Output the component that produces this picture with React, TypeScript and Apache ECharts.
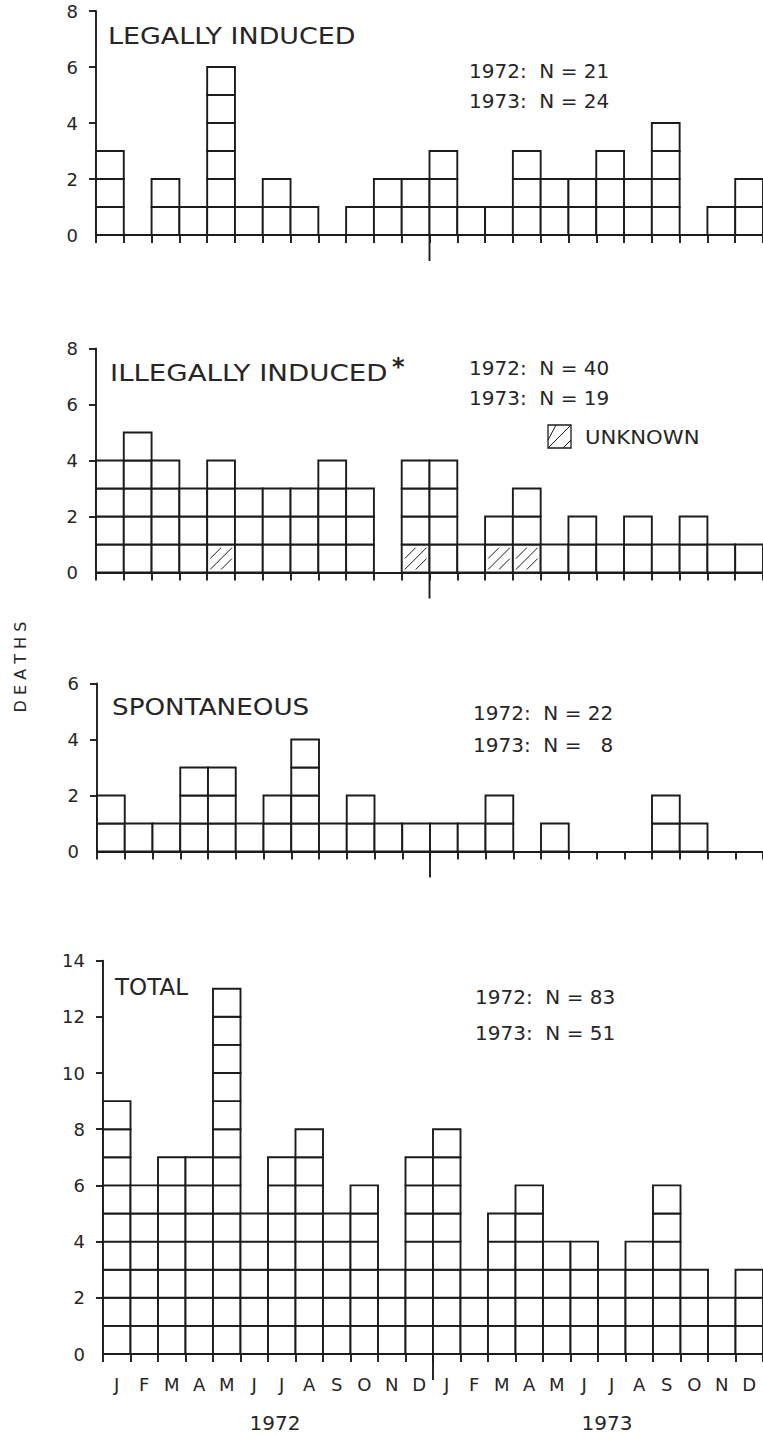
import React, { useEffect, useRef } from "react";
import * as echarts from "echarts";

const monthLetters = ["J", "F", "M", "A", "M", "J", "J", "A", "S", "O", "N", "D"];
const categories = [...monthLetters, ...monthLetters];

const legal1972 = [3, 0, 2, 1, 6, 1, 2, 1, 0, 1, 2, 2];
const legal1973 = [3, 1, 1, 3, 2, 2, 3, 2, 4, 0, 1, 2];
const illegal1972 = [4, 5, 4, 3, 4, 3, 3, 3, 4, 3, 0, 4];
const illegal1973 = [4, 1, 2, 3, 1, 2, 1, 2, 1, 2, 1, 1];
const unknown1972 = [0, 0, 0, 0, 1, 0, 0, 0, 0, 0, 0, 1];
const unknown1973 = [0, 0, 1, 1, 0, 0, 0, 0, 0, 0, 0, 0];
const spont1972 = [2, 1, 1, 3, 3, 1, 2, 4, 1, 2, 1, 1];
const spont1973 = [1, 1, 2, 0, 1, 0, 0, 0, 2, 1, 0, 0];
const total1972 = [9, 6, 7, 7, 13, 5, 7, 8, 5, 6, 3, 7];
const total1973 = [8, 3, 5, 6, 4, 4, 3, 4, 6, 3, 2, 3];

const panelTitles = ["LEGALLY INDUCED", "ILLEGALLY INDUCED", "SPONTANEOUS", "TOTAL"];
const panelN1972 = ["21", "40", "22", "83"];
const panelN1973 = ["24", "19", "  8", "51"];
const panelMax = [8, 8, 6, 14];
const yearLabels = ["1972", "1973"];

const INK = "#1c1c1c";
const TEXT = "#262626";
const FONT = "DejaVu Sans";

// layout (pixels)
const grids = [
  { left: 96, top: 11, width: 667, height: 224 },
  { left: 96, top: 348.5, width: 667, height: 224 },
  { left: 97, top: 683.5, width: 667, height: 168 },
  { left: 103, top: 960.6, width: 662, height: 393.4 },
];

function boxesItem(params: any, api: any) {
  const idx = api.value(0);
  const count = api.value(1);
  const unk = api.value(2);
  const w = api.size([1, 0])[0];
  const cx = api.coord([idx, 0])[0];
  const base = api.coord([idx, 0])[1];
  const x = cx - w / 2;
  const children: any[] = [];
  for (let k = 0; k < count; k++) {
    const yTop = api.coord([idx, k + 1])[1];
    const yBot = api.coord([idx, k])[1];
    const h = yBot - yTop;
    children.push({
      type: "rect",
      shape: { x, y: yTop, width: w, height: h },
      style: { fill: "#ffffff", stroke: INK, lineWidth: 1.9 },
    });
    if (k < unk) {
      const ins = 3;
      const s = w - 2 * ins;
      const x0 = x + ins;
      const y0 = yBot - ins;
      const offs = [-0.5, 0, 0.5];
      offs.forEach((o) => {
        let x1, y1, x2, y2;
        if (o <= 0) {
          const b = -o * s;
          x1 = x0; y1 = y0 - b; x2 = x0 + (s - b); y2 = y0 - s;
        } else {
          const a = o * s;
          x1 = x0 + a; y1 = y0; x2 = x0 + s; y2 = y0 - (s - a);
        }
        children.push({
          type: "line",
          shape: { x1, y1, x2, y2 },
          style: { stroke: INK, lineWidth: 1 },
        });
      });
    }
  }
  if (idx === 11) {
    children.push({
      type: "line",
      shape: { x1: x + w, y1: base, x2: x + w, y2: base + 26 },
      style: { stroke: INK, lineWidth: 1.9 },
    });
  }
  return { type: "group", children };
}

export default function App() {
  const ref = useRef<HTMLDivElement>(null);
  useEffect(() => {
    if (!ref.current) return;
    const chart = echarts.init(ref.current, undefined, { renderer: "svg" });

    const panelData = [
      [...legal1972, ...legal1973].map((v, i) => [i, v, 0]),
      [...illegal1972, ...illegal1973].map((v, i) => [
        i,
        v,
        [...unknown1972, ...unknown1973][i],
      ]),
      [...spont1972, ...spont1973].map((v, i) => [i, v, 0]),
      [...total1972, ...total1973].map((v, i) => [i, v, 0]),
    ];

    const xAxes = grids.map((g, p) => ({
      type: "category",
      gridIndex: p,
      data: categories,
      boundaryGap: true,
      axisLine: { show: true, lineStyle: { color: INK, width: 1.9 } },
      axisTick: {
        show: true,
        length: 8,
        interval: 0,
        lineStyle: { color: INK, width: 1.9 },
      },
      axisLabel: {
        show: p === 3,
        interval: 0,
        color: TEXT,
        fontFamily: FONT,
        fontSize: 18,
        margin: 21,
      },
      splitLine: { show: false },
    }));

    const yAxes = grids.map((g, p) => {
      const ticks: number[] = [];
      for (let v = 2; v <= panelMax[p]; v += 2) ticks.push(v);
      return {
        type: "value",
        gridIndex: p,
        min: 0,
        max: panelMax[p],
        interval: 2,
        axisLine: { show: true, lineStyle: { color: INK, width: 1.9 } },
        axisTick: {
          show: true,
          length: 7,
          customValues: ticks,
          lineStyle: { color: INK, width: 1.9 },
        },
        axisLabel: {
          color: TEXT,
          fontFamily: FONT,
          fontSize: 18,
          margin: 18,
        },
        splitLine: { show: false },
      };
    });

    const series = panelData.map((d, p) => ({
      type: "custom",
      xAxisIndex: p,
      yAxisIndex: p,
      clip: false,
      renderItem: boxesItem,
      encode: { x: 0, y: 1 },
      data: d,
      silent: true,
    }));

    const txt = (
      x: number,
      y: number,
      text: string,
      size: number,
      scaleX = 1,
      extra: any = {}
    ) => ({
      type: "text",
      x,
      y,
      scaleX,
      silent: true,
      style: {
        text,
        fill: TEXT,
        font: `${size}px "${FONT}"`,
        textVerticalAlign: "middle",
        ...extra,
      },
    });

    const titlePos = [
      [108, 36],
      [110, 373],
      [112, 707],
      [115, 987],
    ];
    const titleScale = [1.17, 1.2, 1.14, 1.0];
    const nPos = [
      [469, 71, 101],
      [469, 368, 398],
      [473, 713, 745],
      [475, 997, 1033],
    ];

    const graphics: any[] = [];
    panelTitles.forEach((t, p) => {
      graphics.push(txt(titlePos[p][0], titlePos[p][1], t, 23, titleScale[p]));
      graphics.push(
        txt(nPos[p][0], nPos[p][1], `1972:  N = ${panelN1972[p]}`, 20)
      );
      graphics.push(
        txt(nPos[p][0], nPos[p][2], `1973:  N = ${panelN1973[p]}`, 20)
      );
    });
    // asterisk after ILLEGALLY INDUCED
    graphics.push({
      type: "text",
      x: 392,
      y: 355,
      silent: true,
      style: {
        text: "*",
        fill: TEXT,
        font: `bold 24px "${FONT}"`,
        textVerticalAlign: "top",
      },
    });
    // UNKNOWN legend
    graphics.push({
      type: "rect",
      silent: true,
      shape: { x: 548, y: 425, width: 23, height: 23 },
      style: { fill: "#fff", stroke: INK, lineWidth: 1.3 },
    });
    [
      [548, 440, 556, 425],
      [548, 448, 571, 425],
      [563, 448, 571, 440],
    ].forEach(([x1, y1, x2, y2]) =>
      graphics.push({
        type: "line",
        silent: true,
        shape: { x1, y1, x2, y2 },
        style: { stroke: INK, lineWidth: 1 },
      })
    );
    graphics.push(txt(585, 437, "UNKNOWN", 20, 1.06));
    // DEATHS axis title
    graphics.push({
      type: "text",
      silent: true,
      x: 20,
      y: 667,
      rotation: Math.PI / 2,
      style: {
        text: "D E A T H S",
        fill: TEXT,
        font: `16px "${FONT}"`,
        textAlign: "center",
        textVerticalAlign: "middle",
      },
    });
    // year labels
    graphics.push(txt(275, 1423, yearLabels[0], 20, 1, { textAlign: "center" }));
    graphics.push(txt(607, 1423, yearLabels[1], 20, 1, { textAlign: "center" }));

    chart.setOption({
      animation: false,
      backgroundColor: "#ffffff",
      grid: grids.map((g) => ({ ...g, containLabel: false })),
      xAxis: xAxes,
      yAxis: yAxes,
      series,
      graphic: graphics,
    });
    return () => chart.dispose();
  }, []);
  return (
    <div
      ref={ref}
      style={{ position: "absolute", left: 0, top: 0, width: 763, height: 1435 }}
    />
  );
}
